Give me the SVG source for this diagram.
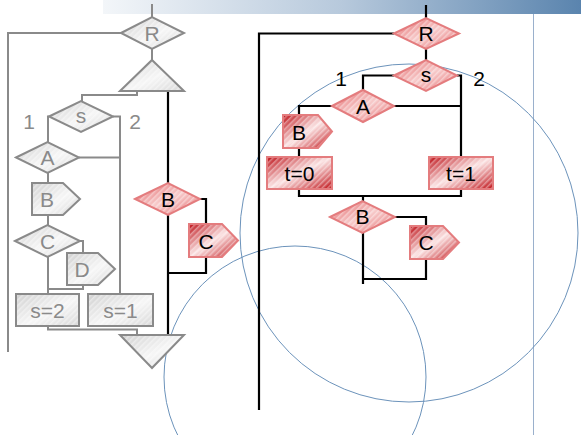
<svg xmlns="http://www.w3.org/2000/svg" width="581" height="435" viewBox="0 0 581 435">
  <defs>
    <linearGradient id="bar" x1="0" y1="0" x2="1" y2="0">
      <stop offset="0" stop-color="#f3f6f9"/>
      <stop offset="0.5" stop-color="#b7c9dc"/>
      <stop offset="1" stop-color="#5a84ae"/>
    </linearGradient>
    <linearGradient id="grayFill" x1="0" y1="0" x2="1" y2="1">
      <stop offset="0" stop-color="#d0d0d0"/>
      <stop offset="0.55" stop-color="#f6f6f6"/>
      <stop offset="1" stop-color="#d8d8d8"/>
    </linearGradient>
    <linearGradient id="redBox" x1="0" y1="0" x2="1" y2="1">
      <stop offset="0" stop-color="#bd0f16"/>
      <stop offset="0.5" stop-color="#fbe3e3"/>
      <stop offset="1" stop-color="#c0151b"/>
    </linearGradient>
    <linearGradient id="redDia" x1="0" y1="0" x2="1" y2="1">
      <stop offset="0" stop-color="#e26264"/>
      <stop offset="0.5" stop-color="#f7caca"/>
      <stop offset="1" stop-color="#e77a7c"/>
    </linearGradient>
    <pattern id="hatch" patternUnits="userSpaceOnUse" width="4" height="4" patternTransform="rotate(45)">
      <rect x="0" y="0" width="1.5" height="4" fill="#ffffff" fill-opacity="0.4"/>
    </pattern>
  </defs>
  <style>
    .gshape { fill: url(#grayFill); stroke: none; }
    .rbox { fill: url(#redBox); stroke: none; }
    .rdia { fill: url(#redDia); stroke: none; }
    .hatch-g { fill: url(#hatch); stroke: #8a8a8a; stroke-width: 2; stroke-linejoin: miter; }
    .hatch-r { fill: url(#hatch); stroke: #e47c7e; stroke-width: 2; stroke-linejoin: miter; }
    .gline { fill: none; stroke: #8a8a8a; stroke-width: 2; }
    .bline { fill: none; stroke: #000000; stroke-width: 2.2; }
    .deco { fill: none; stroke: #6c93bb; stroke-width: 1; }
    .gt { font-family: "Liberation Sans", Arial, sans-serif; font-size: 21px; fill: #8a8a8a; text-anchor: middle; dominant-baseline: central; }
    .bt { font-family: "Liberation Sans", Arial, sans-serif; font-size: 21px; fill: #000000; text-anchor: middle; dominant-baseline: central; }
  </style>

  <!-- title bar and frame -->
  <rect x="103" y="0" width="478" height="14" fill="url(#bar)"/>
  <line x1="533.5" y1="14" x2="533.5" y2="435" stroke="#9ab0cc" stroke-width="1"/>

  <!-- decorative circles -->
  <circle class="deco" cx="409" cy="233" r="169"/>
  <circle class="deco" cx="295" cy="377" r="131"/>

  <!-- connectors -->
  <g id="connectors">
    <!-- gray flowchart -->
    <polyline class="gline" points="152,4 152,17"/>
    <polyline class="gline" points="121,33 8,33 8,352"/>
    <polyline class="gline" points="152,49 152,60"/>
    <polyline class="gline" points="137,91 137,95 82,95 82,101"/>
    <polyline class="gline" points="49,116.5 48,116.5 48,142"/>
    <polyline class="gline" points="113,116.5 120,116.5 120,294"/>
    <polyline class="gline" points="79,157.5 120,157.5"/>
    <polyline class="gline" points="48,173 48,183"/>
    <polyline class="gline" points="48,215 48,225"/>
    <polyline class="gline" points="80,241 83,241 83,253"/>
    <polyline class="gline" points="48,257 48,294"/>
    <polyline class="gline" points="48,289 83,289 83,285"/>
    <polyline class="gline" points="48,326 48,329.5 137,329.5 137,335"/>
    <!-- black path through gray chart -->
    <polyline class="bline" points="168,91 168,183"/>
    <polyline class="bline" points="168,215 168,335"/>
    <polyline class="bline" points="200,199 206,199 206,224"/>
    <polyline class="bline" points="206,257 206,273 168,273"/>
    <!-- red flowchart -->
    <polyline class="bline" points="426,5 426,18"/>
    <polyline class="bline" points="394,33.5 259,33.5 259,410"/>
    <polyline class="bline" points="426,49 426,60"/>
    <polyline class="bline" points="394,75.5 363,75.5 363,90"/>
    <polyline class="bline" points="457,75.5 461,75.5 461,157"/>
    <polyline class="bline" points="394,106 461,106"/>
    <polyline class="bline" points="332,106 299,106 299,115"/>
    <polyline class="bline" points="299,148 299,157"/>
    <polyline class="bline" points="299,189 299,196 461,196 461,189"/>
    <polyline class="bline" points="363,196 363,201"/>
    <polyline class="bline" points="395,217 426,217 426,226"/>
    <polyline class="bline" points="363,233 363,284"/>
    <polyline class="bline" points="426,259 426,279 363,279"/>
  </g>

  <!-- gray flowchart nodes -->
  <g id="g-R">
    <path class="gshape" d="M121,33 L152,17 L184,33 L152,49 Z"/>
    <path class="hatch-g" d="M121,33 L152,17 L184,33 L152,49 Z"/>
    <text class="gt" x="152" y="33">R</text>
  </g>
  <g id="g-open">
    <path class="gshape" d="M152,60 L184,91 L120,91 Z"/>
    <path class="hatch-g" d="M152,60 L184,91 L120,91 Z"/>
  </g>
  <g id="g-s">
    <path class="gshape" d="M49,116.5 L81,101 L113,116.5 L81,132 Z"/>
    <path class="hatch-g" d="M49,116.5 L81,101 L113,116.5 L81,132 Z"/>
    <text class="gt" x="81" y="115.5">s</text>
  </g>
  <text class="gt" x="29" y="121">1</text>
  <text class="gt" x="135" y="121">2</text>
  <g id="g-A">
    <path class="gshape" d="M16,157.5 L47.5,142 L79,157.5 L47.5,173 Z"/>
    <path class="hatch-g" d="M16,157.5 L47.5,142 L79,157.5 L47.5,173 Z"/>
    <text class="gt" x="47.5" y="157.5">A</text>
  </g>
  <g id="g-B">
    <path class="gshape" d="M32,183 L63,183 L80,199 L63,215 L32,215 Z"/>
    <path class="hatch-g" d="M32,183 L63,183 L80,199 L63,215 L32,215 Z"/>
    <text class="gt" x="47" y="199">B</text>
  </g>
  <g id="g-C">
    <path class="gshape" d="M15,241 L47.5,225 L80,241 L47.5,257 Z"/>
    <path class="hatch-g" d="M15,241 L47.5,225 L80,241 L47.5,257 Z"/>
    <text class="gt" x="47.5" y="241">C</text>
  </g>
  <g id="g-D">
    <path class="gshape" d="M67,253 L98,253 L115,269 L98,285 L67,285 Z"/>
    <path class="hatch-g" d="M67,253 L98,253 L115,269 L98,285 L67,285 Z"/>
    <text class="gt" x="82" y="269">D</text>
  </g>
  <g id="g-s2">
    <rect class="gshape" x="16" y="294" width="63" height="32"/>
    <rect class="hatch-g" x="16" y="294" width="63" height="32"/>
    <text class="gt" x="47.5" y="310">s=2</text>
  </g>
  <g id="g-s1">
    <rect class="gshape" x="88" y="294" width="65" height="32"/>
    <rect class="hatch-g" x="88" y="294" width="65" height="32"/>
    <text class="gt" x="120.5" y="310">s=1</text>
  </g>
  <g id="g-close">
    <path class="gshape" d="M120,335 L184,335 L152,368 Z"/>
    <path class="hatch-g" d="M120,335 L184,335 L152,368 Z"/>
  </g>

  <!-- red nodes beside the gray chart -->
  <g id="m-B">
    <path class="rdia" d="M135,199 L168,183 L200,199 L168,215 Z"/>
    <path class="hatch-r" d="M135,199 L168,183 L200,199 L168,215 Z"/>
    <text class="bt" x="168" y="199">B</text>
  </g>
  <g id="m-C">
    <path class="rbox" d="M189,224 L222,224 L238,240.5 L222,257 L189,257 Z"/>
    <path class="hatch-r" d="M189,224 L222,224 L238,240.5 L222,257 L189,257 Z"/>
    <text class="bt" x="206" y="241">C</text>
  </g>

  <!-- red flowchart nodes -->
  <g id="r-R">
    <path class="rdia" d="M394,33.5 L426,18 L459,33.5 L426,49 Z"/>
    <path class="hatch-r" d="M394,33.5 L426,18 L459,33.5 L426,49 Z"/>
    <text class="bt" x="426" y="33.5">R</text>
  </g>
  <g id="r-s">
    <path class="rdia" d="M394,75.5 L426,60 L457,75.5 L426,91 Z"/>
    <path class="hatch-r" d="M394,75.5 L426,60 L457,75.5 L426,91 Z"/>
    <text class="bt" x="426" y="74">s</text>
  </g>
  <text class="bt" x="341" y="78">1</text>
  <text class="bt" x="479" y="78">2</text>
  <g id="r-A">
    <path class="rdia" d="M332,106 L363,90 L394,106 L363,122 Z"/>
    <path class="hatch-r" d="M332,106 L363,90 L394,106 L363,122 Z"/>
    <text class="bt" x="363" y="106">A</text>
  </g>
  <g id="r-B">
    <path class="rbox" d="M283,115 L318,115 L332,131.5 L318,148 L283,148 Z"/>
    <path class="hatch-r" d="M283,115 L318,115 L332,131.5 L318,148 L283,148 Z"/>
    <text class="bt" x="299" y="132">B</text>
  </g>
  <g id="r-t0">
    <rect class="rbox" x="267" y="157" width="65" height="32"/>
    <rect class="hatch-r" x="267" y="157" width="65" height="32"/>
    <text class="bt" x="299.5" y="173">t=0</text>
  </g>
  <g id="r-t1">
    <rect class="rbox" x="429" y="157" width="64" height="32"/>
    <rect class="hatch-r" x="429" y="157" width="64" height="32"/>
    <text class="bt" x="461" y="173">t=1</text>
  </g>
  <g id="r-B2">
    <path class="rdia" d="M330,217 L362.5,201 L395,217 L362.5,233 Z"/>
    <path class="hatch-r" d="M330,217 L362.5,201 L395,217 L362.5,233 Z"/>
    <text class="bt" x="362.5" y="216">B</text>
  </g>
  <g id="r-C">
    <path class="rbox" d="M410,226 L443,226 L459,242.5 L443,259 L410,259 Z"/>
    <path class="hatch-r" d="M410,226 L443,226 L459,242.5 L443,259 L410,259 Z"/>
    <text class="bt" x="426" y="242.5">C</text>
  </g>
</svg>
